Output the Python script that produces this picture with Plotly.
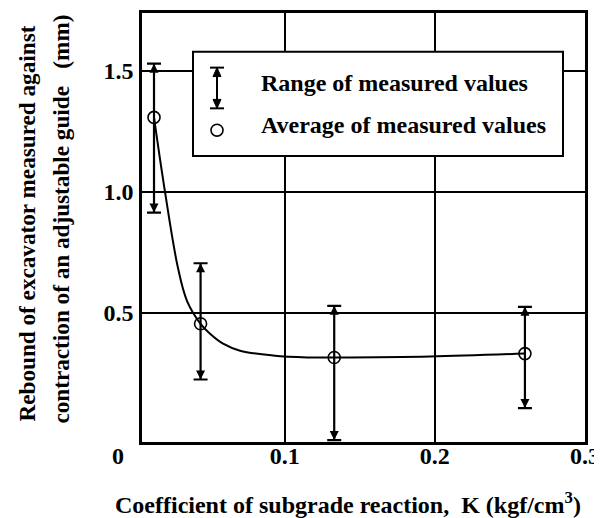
import plotly.graph_objects as go

# ---------------- data ----------------
k_values = [0.013, 0.044, 0.133, 0.260]
avg_rebound = [1.307, 0.455, 0.316, 0.332]
max_rebound = [1.529, 0.705, 0.529, 0.525]
min_rebound = [0.914, 0.225, -0.025, 0.107]

curve_k = [0.013, 0.0203, 0.029, 0.035, 0.044, 0.0503, 0.059, 0.0703,
           0.0922, 0.1149, 0.133, 0.1968, 0.260]
curve_rebound = [1.307, 1.0, 0.684, 0.549, 0.455, 0.414, 0.373, 0.344,
                 0.324, 0.316, 0.316, 0.320, 0.332]

x_tick_vals = [0.1, 0.2, 0.3]
x_tick_text = ["0.1", "0.2", "0.3"]
y_tick_vals = [0.5, 1.0, 1.5]
y_tick_text = ["0.5", "1.0", "1.5"]

legend_labels = ["Range of measured values", "Average of measured values"]
x_title = "Coefficient of subgrade reaction,\u00a0\u00a0K (kgf/cm<sup>3</sup>)"
y_title_lines = ["Rebound of excavator measured against",
                 "contraction of an adjustable guide\u00a0\u00a0\u00a0(mm)"]

# ---------------- layout geometry ----------------
# the page body has an 8px default margin, so the figure is made 8px smaller
OFF = 8
W, H = 602 - OFF, 518 - OFF
ML, MR, MT, MB = 142 - OFF, 17, 10 - OFF, 76
PW, PH = W - ML - MR, H - MT - MB
FONT = "Liberation Serif, Times New Roman, serif"


def px(x):
    """page pixel x -> paper fraction"""
    return (x - OFF - ML) / PW


def py(y):
    """page pixel y -> paper fraction"""
    return (H - MB - (y - OFF)) / PH


err_plus = [mx - a for mx, a in zip(max_rebound, avg_rebound)]
err_minus = [a - mn for a, mn in zip(avg_rebound, min_rebound)]

fig = go.Figure()

# fitted curve
fig.add_trace(go.Scatter(
    x=curve_k, y=curve_rebound, mode="lines",
    line=dict(color="black", width=2, shape="spline", smoothing=1.0),
    showlegend=False, hoverinfo="skip"))

# range bars + average circles
fig.add_trace(go.Scatter(
    x=k_values, y=avg_rebound, mode="markers",
    marker=dict(symbol="circle-open", size=12, color="black",
                line=dict(width=1.6, color="black")),
    error_y=dict(type="data", symmetric=False, array=err_plus,
                 arrayminus=err_minus, color="black", thickness=2.2, width=7),
    showlegend=False))

# arrowheads at the ends of each range bar
fig.add_trace(go.Scatter(
    x=k_values, y=max_rebound, mode="markers",
    marker=dict(symbol="arrow-up", size=9, color="black"),
    showlegend=False, hoverinfo="skip"))
fig.add_trace(go.Scatter(
    x=k_values, y=min_rebound, mode="markers",
    marker=dict(symbol="arrow-down", size=9, color="black"),
    showlegend=False, hoverinfo="skip"))

tickfont = dict(family=FONT, size=24, color="black", weight="bold")

fig.update_layout(
    width=W, height=H, autosize=False,
    margin=dict(l=ML, r=MR, t=MT, b=MB),
    paper_bgcolor="white", plot_bgcolor="white",
    font=dict(family=FONT, size=22, color="black", weight="bold"),
    xaxis=dict(range=[0.005, 0.3], tickvals=x_tick_vals, ticktext=x_tick_text,
               showgrid=True, gridcolor="black", gridwidth=2,
               showline=True, linecolor="black", linewidth=2.5, mirror=True,
               zeroline=False, ticks="", tickfont=tickfont, fixedrange=True,
               ticklabelstandoff=-10),
    yaxis=dict(range=[-0.033, 1.738], tickvals=y_tick_vals, ticktext=y_tick_text,
               showgrid=True, gridcolor="black", gridwidth=2,
               showline=True, linecolor="black", linewidth=2.5, mirror=True,
               zeroline=False, ticks="", tickfont=tickfont, fixedrange=True,
               ticklabelstandoff=1),
)

shapes = []
# legend box
shapes.append(dict(type="rect", xref="paper", yref="paper", layer="above",
                   x0=px(193), x1=px(563), y0=py(154), y1=py(49),
                   fillcolor="white", line=dict(color="black", width=2)))
# legend glyph: range bar
gx, gt, gb = 217, 65, 106
shapes.append(dict(type="line", xref="paper", yref="paper", layer="above",
                   x0=px(gx), x1=px(gx), y0=py(gt), y1=py(gb),
                   line=dict(color="black", width=2)))
for yy in (gt, gb):
    shapes.append(dict(type="line", xref="paper", yref="paper", layer="above",
                       x0=px(gx - 7), x1=px(gx + 7), y0=py(yy), y1=py(yy),
                       line=dict(color="black", width=2)))
for tip, base in ((gt, gt + 9), (gb, gb - 9)):
    shapes.append(dict(
        type="path", xref="paper", yref="paper", layer="above",
        path=f"M {px(gx)},{py(tip)} L {px(gx - 4)},{py(base)} L {px(gx + 4)},{py(base)} Z",
        fillcolor="black", line=dict(color="black", width=1)))
# legend glyph: circle
shapes.append(dict(type="circle", xref="paper", yref="paper", layer="above",
                   x0=px(211), x1=px(223), y0=py(134), y1=py(122),
                   line=dict(color="black", width=1.6)))
fig.update_layout(shapes=shapes)

ann_font = dict(family=FONT, size=24, color="black", weight="bold")
ytitle_font = dict(family=FONT, size=23.2, color="black", weight="bold")
annotations = [
    dict(text=legend_labels[0], x=px(259), y=py(80), xref="paper", yref="paper",
         xanchor="left", yanchor="middle", showarrow=False, font=ann_font),
    dict(text=legend_labels[1], x=px(259), y=py(123), xref="paper", yref="paper",
         xanchor="left", yanchor="middle", showarrow=False, font=ann_font),
    # origin label
    dict(text="0", x=px(118), y=py(456), xref="paper", yref="paper",
         xanchor="center", yanchor="middle", showarrow=False, font=tickfont),
    # x axis title
    dict(text=x_title, x=px(348), y=py(503), xref="paper", yref="paper",
         xanchor="center", yanchor="middle", showarrow=False, font=ann_font),
    # y axis title (two lines)
    dict(text=y_title_lines[0], x=px(27), y=py(222), xref="paper", yref="paper",
         xanchor="center", yanchor="middle", textangle=-90, showarrow=False,
         font=ytitle_font),
    dict(text=y_title_lines[1], x=px(61), y=py(218), xref="paper", yref="paper",
         xanchor="center", yanchor="middle", textangle=-90, showarrow=False,
         font=ytitle_font),
]
fig.update_layout(annotations=annotations)

fig.write_html("out.html")
